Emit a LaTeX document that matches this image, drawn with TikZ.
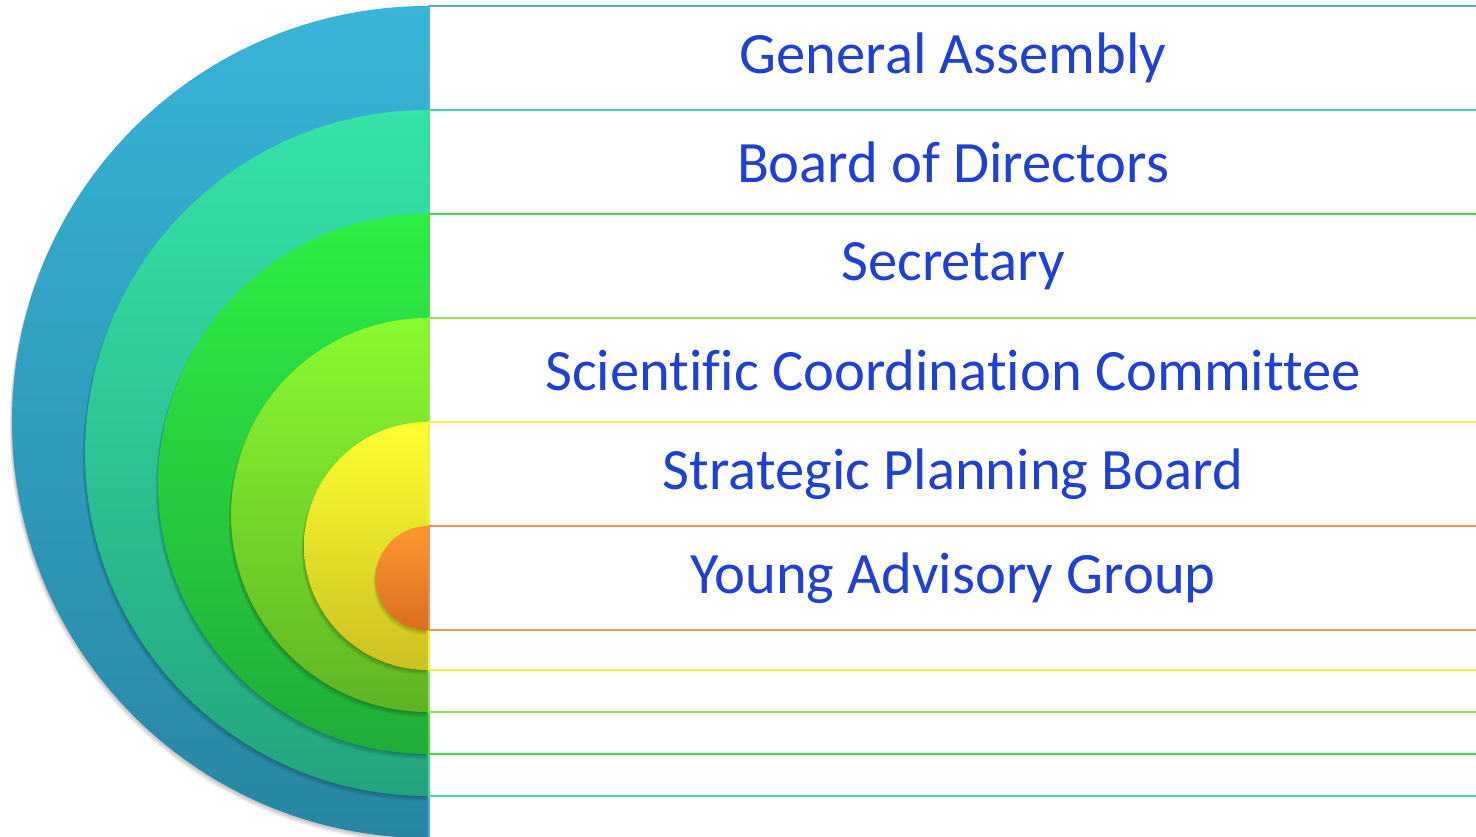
\documentclass[tikz,border=0pt]{standalone}
\usepackage{fontspec}
\setmainfont{Carlito}[Ligatures={NoCommon}]
\definecolor{txt}{RGB}{32,64,208}
\definecolor{bTop}{RGB}{56,180,216}\definecolor{bBot}{RGB}{40,134,162}\definecolor{bLn}{RGB}{74,175,208}
\definecolor{tTop}{RGB}{54,227,168}\definecolor{tBot}{RGB}{36,164,126}\definecolor{tLn}{RGB}{64,216,160}
\definecolor{gTop}{RGB}{46,238,68}\definecolor{gBot}{RGB}{32,172,56}\definecolor{gLn}{RGB}{64,224,64}
\definecolor{lTop}{RGB}{138,250,48}\definecolor{lBot}{RGB}{96,180,36}\definecolor{lLn}{RGB}{144,232,80}
\definecolor{yTop}{RGB}{255,255,48}\definecolor{yBot}{RGB}{204,192,32}\definecolor{yLn}{RGB}{240,240,64}
\definecolor{oTop}{RGB}{255,152,48}\definecolor{oBot}{RGB}{216,110,32}\definecolor{oLn}{RGB}{248,144,80}
\tikzset{
  label/.style={text=txt,font=\fontsize{58.6}{60}\selectfont,anchor=center,inner sep=0pt},
  band/.style={fill=white,line width=2pt},
}
\newcommand{\halfdisc}[5]{%
  % #1 center y (from top), #2 radius, #3 top colour, #4 bottom colour, #5 name
  \foreach \s in {1,2,3,4}{
    \fill[black,opacity=0.06] (428-\s*0.6,836-#1-\s*1.2) ++(0,#2) arc[start angle=90,end angle=270,radius=#2] -- cycle;
  }
  \shade[top color=#3,bottom color=#4] (428,836-#1) ++(0,#2) arc[start angle=90,end angle=270,radius=#2] -- cycle;
  \coordinate (#5) at (428,836-#1);
}
\begin{document}
\begin{tikzpicture}[x=1pt,y=1pt]
\useasboundingbox (0,0) rectangle (1476,836);
\clip (0,0) rectangle (1476,836);
\fill[white] (0,0) rectangle (1476,836);
% half discs
\halfdisc{422}{416}{bTop}{bBot}{cB}
\halfdisc{453}{343}{tTop}{tBot}{cT}
\halfdisc{484}{270}{gTop}{gBot}{cG}
\halfdisc{515}{197}{lTop}{lBot}{cL}
\halfdisc{546}{124}{yTop}{yBot}{cY}
\halfdisc{578}{52}{oTop}{oBot}{cO}
% bands
\draw[band,draw=bLn] (429,836-6) rectangle (1490,836-838);
\draw[band,draw=tLn] (429,836-110) rectangle (1490,836-796);
\draw[band,draw=gLn] (429,836-214) rectangle (1490,836-754);
\draw[band,draw=lLn] (429,836-318) rectangle (1490,836-712);
\draw[band,draw=yLn] (429,836-422) rectangle (1490,836-670);
\draw[band,draw=oLn] (429,836-526) rectangle (1490,836-630);
% labels
\node[label] (ga) at (953,836-58) {General Assembly};
\node[label] (bd) at (953,836-162) {Board of Directors};
\node[label] (se) at (953,836-266) {Secretary};
\node[label] (sc) at (953,836-370) {Scientific Coordination Committee};
\node[label] (sp) at (953,836-474) {Strategic Planning Board};
\node[label] (ya) at (953,836-578) {Young Advisory Group};
\end{tikzpicture}
\end{document}
